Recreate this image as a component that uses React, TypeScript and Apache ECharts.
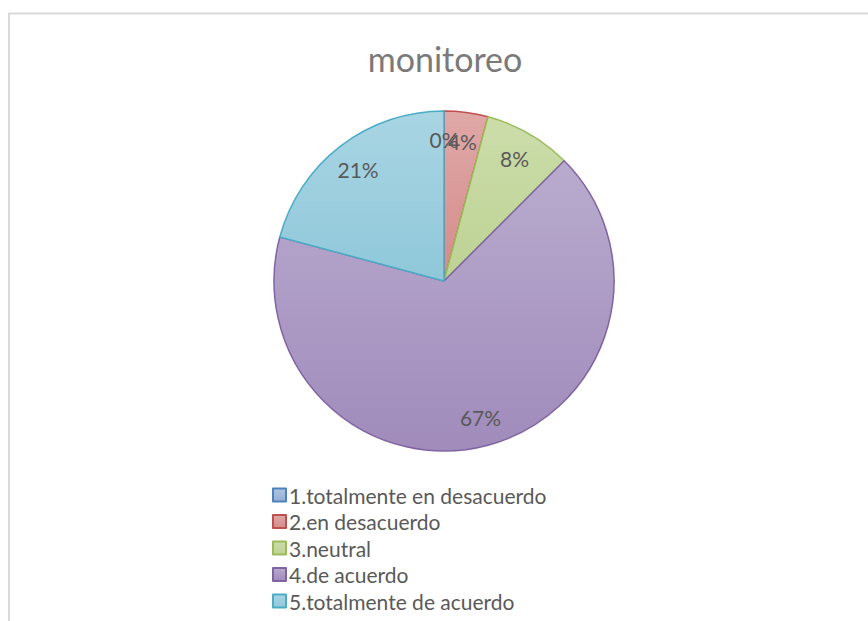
import React, { useEffect, useRef } from "react";
import * as echarts from "echarts";

const title = "monitoreo";
const categories = [
  "1.totalmente en desacuerdo",
  "2.en desacuerdo",
  "3.neutral",
  "4.de acuerdo",
  "5.totalmente de acuerdo",
];
const counts = [0, 1, 2, 16, 5];
const lineColors = ["#4F81BD", "#C0504D", "#9BBB59", "#8064A2", "#4BACC6"];
const fillTop = ["#AFC5E2", "#DFA8A7", "#CCDDAA", "#B9ABCE", "#A9D5E3"];
const fillBottom = ["#94B0D6", "#D48C8A", "#BDD294", "#A08BBB", "#8FC8DA"];

export default function App() {
  const ref = useRef<HTMLDivElement>(null);
  useEffect(() => {
    if (!ref.current) return;
    const chart = echarts.init(ref.current, null, { renderer: "svg" });
    const total = counts.reduce((a, b) => a + b, 0);
    const fills = categories.map(
      (_, i) =>
        new echarts.graphic.LinearGradient(0, 0, 0, 1, [
          { offset: 0, color: fillTop[i] },
          { offset: 1, color: fillBottom[i] },
        ])
    );
    // mid-angle of every slice, in data units, for label placement
    let acc = 0;
    const mids = counts.map((c) => {
      const m = acc + c / 2;
      acc += c;
      return m;
    });
    const font = "Lato, 'Open Sans', sans-serif";
    const R = 170;
    chart.setOption({
      animation: false,
      backgroundColor: "#ffffff",
      title: {
        text: title,
        top: 36,
        left: 440,
        textAlign: "center",
        textStyle: { fontFamily: font, fontSize: 34, fontWeight: "normal", color: "#7a7a7a" },
      },
      legend: {
        orient: "vertical",
        left: 267,
        top: 479,
        height: 200,
        itemWidth: 13,
        itemHeight: 13,
        itemGap: 4.5,
        icon: "rect",
        selectedMode: false,
        data: categories,
        textStyle: { fontFamily: font, fontSize: 21, color: "#595959", lineHeight: 22, padding: [0, 0, 0, -2] },
      },
      polar: { center: [444, 281], radius: R },
      angleAxis: {
        type: "value",
        min: 0,
        max: total,
        startAngle: 90,
        clockwise: true,
        show: false,
      },
      radiusAxis: { type: "value", min: 0, max: R, show: false },
      graphic: [
        {
          type: "rect",
          shape: { x: 9, y: 13.5, width: 1000, height: 1000 },
          style: { fill: "none", stroke: "#d9d9d9", lineWidth: 2 },
          silent: true,
        },
      ],
      series: [
        {
          type: "pie",
          center: [444, 281],
          radius: [0, R],
          startAngle: 90,
          clockwise: true,
          label: { show: false },
          labelLine: { show: false },
          emphasis: { disabled: true },
          data: categories.map((name, i) => ({
            name,
            value: counts[i],
            itemStyle: { color: fills[i], borderColor: lineColors[i], borderWidth: 1.5 },
          })),
        },
        {
          type: "scatter",
          coordinateSystem: "polar",
          silent: true,
          symbol: "circle",
          symbolSize: 1,
          itemStyle: { color: "rgba(0,0,0,0)", opacity: 1 },
          z: 5,
          label: {
            show: true,
            position: "inside",
            fontFamily: font,
            fontSize: 21,
            color: "#595959",
            opacity: 1,
            formatter: (p: any) => Math.round((counts[p.dataIndex] / total) * 100) + "%",
          },
          data: mids.map((m) => [R * 0.83, m]),
        },
      ],
    });
    return () => chart.dispose();
  }, []);
  return (
    <div
      ref={ref}
      style={{ position: "fixed", left: 0, top: 0, width: 868, height: 621 }}
    />
  );
}
